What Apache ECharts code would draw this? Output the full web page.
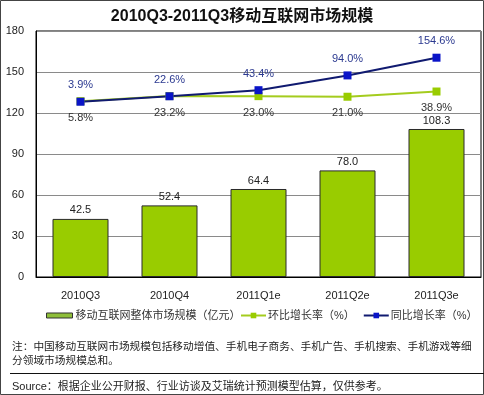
<!DOCTYPE html>
<html><head><meta charset="utf-8">
<script src="https://cdn.jsdelivr.net/npm/echarts@6/dist/echarts.min.js"></script>
<style>html,body{margin:0;padding:0;background:#fff}#c{width:484px;height:395px}</style>
</head><body><div id="c"></div>
<script>
const categories = ['2010Q3','2010Q4','2011Q1e','2011Q2e','2011Q3e'];
const marketSize = [42.5, 52.4, 64.4, 78.0, 108.3];
const qoqGrowth = [5.8, 23.2, 23.0, 21.0, 38.9];
const yoyGrowth = [3.9, 22.6, 43.4, 94.0, 154.6];
const yTicks = [0, 30, 60, 90, 120, 150, 180];
const names = ['移动互联网整体市场规模（亿元）','环比增长率（%）','同比增长率（%）'];
const FONT = "'Century Gothic','Liberation Sans','Noto Sans CJK SC',sans-serif";
const chart = echarts.init(document.getElementById('c'), null, {renderer:'canvas'});
chart.setOption({
  animation:false,
  textStyle:{fontFamily:FONT},
  title:{text:'2010Q3-2011Q3移动互联网市场规模', left:'center', top:4,
    textStyle:{fontSize:16, fontWeight:'bold', color:'#111', fontFamily:FONT}},
  grid:{left:36, right:3, top:31, bottom:118, show:true, borderColor:'#000', borderWidth:1},
  legend:[
    {data:[{name:names[0], icon:'rect'}], left:46, top:310, padding:0, width:300, orient:'horizontal',
     itemWidth:26, itemHeight:5, itemGap:8,
     itemStyle:{color:'#8fbf3a', borderColor:'#333', borderWidth:1},
     textStyle:{fontSize:11, color:'#333', fontFamily:FONT, padding:[0,0,0,-2]}},
    {data:[names[1], names[2]], left:240, top:310, padding:0, width:300, orient:'horizontal',
     itemWidth:25, itemHeight:7, itemGap:8,
     textStyle:{fontSize:11, color:'#333', fontFamily:FONT, padding:[0,0,0,-3]}}
  ],
  xAxis:{type:'category', data:categories,
    axisLine:{lineStyle:{color:'#000'}}, axisTick:{show:false},
    axisLabel:{fontSize:11, color:'#222', margin:13}},
  yAxis:[
    {type:'value', min:yTicks[0], max:yTicks[yTicks.length-1], interval:30,
     axisLine:{show:true, lineStyle:{color:'#000'}}, axisTick:{show:false},
     axisLabel:{fontSize:11, color:'#222', margin:12},
     splitLine:{lineStyle:{color:'#8a8a8a'}}},
    {type:'value', min:-596, max:246, show:false, splitLine:{show:false}}
  ],
  series:[
    {name:names[0], type:'bar', data:marketSize, barWidth:56,
     itemStyle:{color:'#99CC00', borderColor:'#2a2a2a', borderWidth:1},
     label:{show:true, position:'top', distance:3, fontSize:11, color:'#222',
       formatter:p=>p.value.toFixed(1)}},
    {name:names[1], type:'line', yAxisIndex:1, data:qoqGrowth,
     symbol:'rect', symbolSize:8, lineStyle:{color:'#A4CC1E', width:2},
     itemStyle:{color:'#99CC00'},
     label:{show:true, position:'bottom', distance:7, fontSize:11, color:'#333',
       formatter:p=>p.value.toFixed(1)+'%'}},
    {name:names[2], type:'line', yAxisIndex:1, data:yoyGrowth,
     symbol:'rect', symbolSize:8, lineStyle:{color:'#101a70', width:2},
     itemStyle:{color:'#0a14c8'},
     label:{show:true, position:'top', distance:7, fontSize:11, color:'#2b3990',
       formatter:p=>p.value.toFixed(1)+'%'}}
  ],
  graphic:[
    {type:'rect', shape:{x:0.5, y:0.5, width:483, height:394}, style:{fill:null, stroke:'#444', lineWidth:1}, silent:true},
    {type:'text', left:12, top:341, style:{text:'注：中国移动互联网市场规模包括移动增值、手机电子商务、手机广告、手机搜索、手机游戏等细', fill:'#222', font:"10.7px 'Noto Sans CJK SC',sans-serif"}},
    {type:'text', left:12, top:355, style:{text:'分领域市场规模总和。', fill:'#222', font:"10.7px 'Noto Sans CJK SC',sans-serif"}},
    {type:'line', shape:{x1:10, y1:373.5, x2:484, y2:373.5}, style:{stroke:'#111', lineWidth:1}},
    {type:'text', left:12, top:381, style:{text:'Source：根据企业公开财报、行业访谈及艾瑞统计预测模型估算，仅供参考。', fill:'#222', font:"11px 'Liberation Sans','Noto Sans CJK SC',sans-serif"}}
  ]
});
</script></body></html>
